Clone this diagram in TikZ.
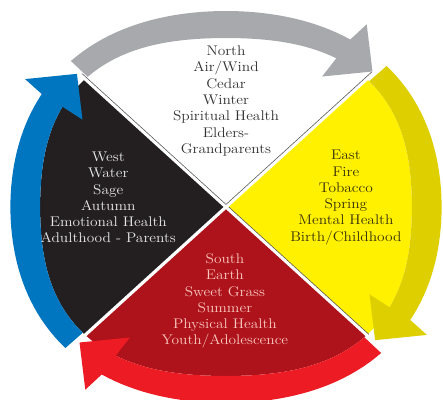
\documentclass[tikz,border=0pt]{standalone}
\usetikzlibrary{calc}
\definecolor{wgray}{RGB}{167,169,172}
\definecolor{wyellow}{RGB}{255,241,0}
\definecolor{wyelband}{RGB}{222,208,0}
\definecolor{wdred}{RGB}{174,18,26}
\definecolor{wred}{RGB}{237,28,36}
\definecolor{wblack}{RGB}{35,31,32}
\definecolor{wblue}{RGB}{0,118,192}
\definecolor{tnorth}{RGB}{50,50,50}
\definecolor{twest}{RGB}{232,232,232}
\definecolor{teast}{RGB}{55,48,10}
\definecolor{tsouth}{RGB}{248,200,190}
\definecolor{sline}{RGB}{90,90,90}
\newcommand{\wsector}[1]{\fill[#1] (0,0) -- plot[domain=-45:45,samples=40] (\x:{rin(\x)}) -- cycle;}
\newcommand{\warrow}[1]{\fill[#1] plot[domain=44:-34,samples=40] (\x:{rout(\x)}) -- (-35:223) -- (-44.5:190) -- (-33.8:157) -- plot[domain=-34:44,samples=40] (\x:{rin(\x)}) -- cycle;}
\begin{document}
\begin{tikzpicture}[x=1pt,y=1pt,
  declare function={rin(\t)=169+12*sin(2*\t)*sin(2*\t); rout(\t)=rin(\t)+27-5*sin(2*\t)*sin(2*\t);},
  lbl/.style={align=center,font=\fontsize{14}{16.3}\selectfont,transform shape,inner sep=0pt},
  stripe/.style={white,line width=3.2pt},
  edgeline/.style={sline,line width=0.6pt}]
\fill[white] (-226,-192) rectangle (217,207);
\useasboundingbox (-226,-192) rectangle (217,207);
\begin{scope}[xscale=1.1]
  % sectors
  \wsector{wyellow}
  \begin{scope}[rotate=90]\wsector{white}\end{scope}
  \begin{scope}[rotate=180]\wsector{wblack}\end{scope}
  \begin{scope}[rotate=-90]\wsector{wdred}\end{scope}
  % dividing stripes
  \draw[stripe] (135:188) -- (-45:183);
  \draw[stripe] (45:190) -- (225:185);
  \draw[edgeline] (90:2.55) -- ($(45:189)+(135:1.8)$);
  \draw[edgeline] (90:2.55) -- ($(135:187)+(45:1.8)$);
  \draw[edgeline] (0:2.55) -- ($(-45:182)+(45:1.8)$);
  % arrows
  \warrow{wyelband}
  \begin{scope}[rotate=-90]\warrow{wred}\end{scope}
  \begin{scope}[rotate=180]\warrow{wblue}\end{scope}
  \begin{scope}[rotate=90]\warrow{wgray}\end{scope}
  % texts
  \node[lbl,text=tnorth] (nN) at (0,106) {North\\Air/Wind\\Cedar\\Winter\\Spiritual Health\\Elders-\\Grandparents};
  \node[lbl,text=twest] (nW) at (-107,9.5) {West\\Water\\Sage\\Autumn\\Emotional Health\\Adulthood - Parents};
  \node[lbl,text=teast] (nE) at (109,9.5) {East\\Fire\\Tobacco\\Spring\\Mental Health\\Birth/Childhood};
  \node[lbl,text=tsouth] (nS) at (-1,-94) {South\\Earth\\Sweet Grass\\Summer\\Physical Health\\Youth/Adolescence};
\end{scope}
\end{tikzpicture}
\end{document}
